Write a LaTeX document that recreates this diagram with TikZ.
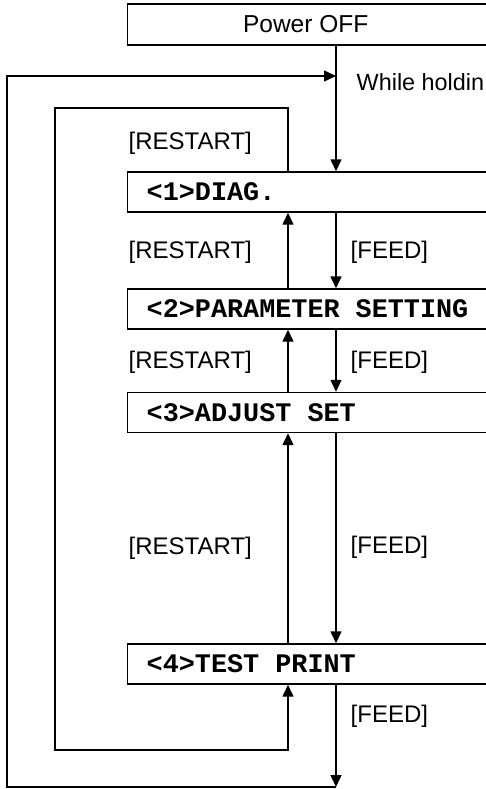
\documentclass[tikz,border=0pt]{standalone}
\usepackage{fontspec}
\setmainfont{Liberation Sans}
\setmonofont{Liberation Mono}
\usetikzlibrary{arrows.meta}
\begin{document}
\begin{tikzpicture}[x=1pt,y=-1pt,
  line width=1.4pt,
  arr/.style={-{Triangle[length=12pt,width=11pt]}},
  stepbox/.style={draw,anchor=west,inner xsep=0pt,inner ysep=0pt,minimum height=40pt,
    font=\fontsize{26.8}{28}\selectfont\ttfamily\bfseries},
  lab/.style={anchor=west,inner sep=0pt,font=\fontsize{24}{28}\selectfont}]
\useasboundingbox (0,0) rectangle (486,789);
\clip (0,0) rectangle (486,789);
\node[draw,anchor=west,inner sep=0pt,minimum height=41pt,font=\fontsize{24.5}{28}\selectfont]
  (off) at (127,24.5) {\makebox[356pt]{Power OFF}\makebox[80pt]{}};
\node[stepbox] (d1) at (127,192) {\makebox[19pt]{}\makebox[400pt][l]{<1>DIAG.}};
\node[stepbox] (d2) at (127,309) {\makebox[19pt]{}\makebox[400pt][l]{<2>PARAMETER SETTING}};
\node[stepbox] (d3) at (127,412.5) {\makebox[19pt]{}\makebox[400pt][l]{<3>ADJUST SET}};
\node[stepbox] (d4) at (127,664) {\makebox[19pt]{}\makebox[400pt][l]{<4>TEST PRINT}};
\coordinate (cx) at (336,0);
\coordinate (rx) at (288,0);
\coordinate (o1) at (7,787);
\coordinate (o2) at (7,76);
\coordinate (i1) at (55,108);
\coordinate (i2) at (55,750);
% main feed line
\draw[arr] (off.south -| cx) -- (d1.north -| cx);
\draw[arr] (d1.south -| cx) -- (d2.north -| cx);
\draw[arr] (d2.south -| cx) -- (d3.north -| cx);
\draw[arr] (d3.south -| cx) -- (d4.north -| cx);
\draw[arr] (d4.south -| cx) -- (cx |- o1);
% restart arrows
\draw[arr] (d2.north -| rx) -- (d1.south -| rx);
\draw[arr] (d3.north -| rx) -- (d2.south -| rx);
\draw[arr] (d4.north -| rx) -- (d3.south -| rx);
% outer loop
\draw[arr] (cx |- o1) -- (o1) -- (o2) -- (cx |- o2);
% inner loop
\draw[arr] (d1.north -| rx) -- (rx |- i1) -- (i1) -- (i2) -- (rx |- i2) -- (d4.south -| rx);
% labels
\node[lab,font=\fontsize{23.4}{28}\selectfont] (wh) at (356,82) {While holdin};
\node[lab] (r0) at (128,143) {[RESTART]};
\node[lab] (r1) at (128,252) {[RESTART]};
\node[lab] (f1) at (350,252) {[FEED]};
\node[lab] (r2) at (128,362) {[RESTART]};
\node[lab] (f2) at (350,362) {[FEED]};
\node[lab] (r3) at (128,548) {[RESTART]};
\node[lab] (f3) at (350,547) {[FEED]};
\node[lab] (f4) at (350,716) {[FEED]};
\end{tikzpicture}
\end{document}
